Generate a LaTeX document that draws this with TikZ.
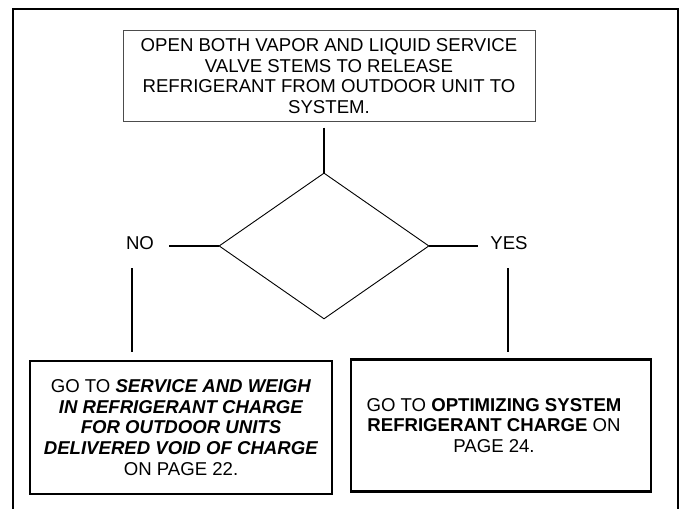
\documentclass[tikz,border=0pt]{standalone}
\usepackage{fontspec}
\setmainfont{Liberation Sans}
\usepackage{tikz}
\usetikzlibrary{
  shapes.geometric, positioning, calc
}
\tikzset{
  flowbox/.style={
    draw, thick, align=center, inner sep=0pt,
    font=\fontsize{18.6}{20.7}\selectfont, fill=white
  },
  notebox/.style={
    flowbox, draw=gray!60!black, line width=1pt,
    minimum width=412pt, minimum height=90pt
  },
  gotobox/.style={
    flowbox, line width=2.2pt,
    minimum width=300pt, minimum height=132pt
  },
  decision/.style={
    diamond, draw, line width=0.9pt, inner sep=0pt,
    minimum width=210pt, minimum height=146pt
  },
  flowlink/.style={line width=2pt},
  flowlabel/.style={
    font=\fontsize{18.6}{20.7}\selectfont, inner sep=0pt, align=center
  },
}

\begin{document}
\begin{tikzpicture}[
  x=1pt, y=-1pt,
  frame/.style={line width=2.6pt}
]
  \useasboundingbox (0,0) rectangle (684,508);

  % ── Frame ──
  \draw[frame] (13,520) -- (13,9) -- (678,9) -- (678,520);

  % ── Steps ──
  \node[notebox] (openvalves) at (329,76)
    {OPEN BOTH VAPOR AND LIQUID SERVICE\\VALVE STEMS TO RELEASE\\REFRIGERANT FROM OUTDOOR UNIT TO\\SYSTEM.};
  \node[decision, below=51pt of openvalves, xshift=-5pt] (chargecheck) {};
  \node[flowlabel] (nolabel) at (140,243) {NO};
  \node[flowlabel] (yeslabel) at (509,243) {YES};
  \node[gotobox, minimum width=302pt, minimum height=133pt] (weighin) at (181,427.5)
    {GO TO \textbf{\textit{SERVICE AND WEIGH}}\\\textbf{\textit{IN REFRIGERANT CHARGE}}\\\textbf{\textit{FOR OUTDOOR UNITS}}\\\textbf{\textit{DELIVERED VOID OF CHARGE}}\\ON PAGE 22.};
  \node[gotobox] (optimize) at (501,425.5) {};
  \node[flowlabel] (optimizetext) at ($(optimize)+(-7,0)$)
    {GO TO \textbf{OPTIMIZING SYSTEM}\\\textbf{REFRIGERANT CHARGE} ON\\PAGE 24.};
  \coordinate (nodrop) at (132,268);
  \coordinate (yesdrop) at (508,268);

  % ── Links ──
  \draw[flowlink] ($(chargecheck.north |- openvalves.south)+(0,6)$) -- (chargecheck.north);
  \draw[flowlink, shorten >=14.5pt] (chargecheck.west) -- (chargecheck.west -| nolabel.east);
  \draw[flowlink, shorten >=12pt] (chargecheck.east) -- (chargecheck.east -| yeslabel.west);
  \draw[flowlink, shorten >=8pt] (nodrop) -- (nodrop |- weighin.north);
  \draw[flowlink, shorten >=6pt] (yesdrop) -- (yesdrop |- optimize.north);
\end{tikzpicture}
\end{document}
